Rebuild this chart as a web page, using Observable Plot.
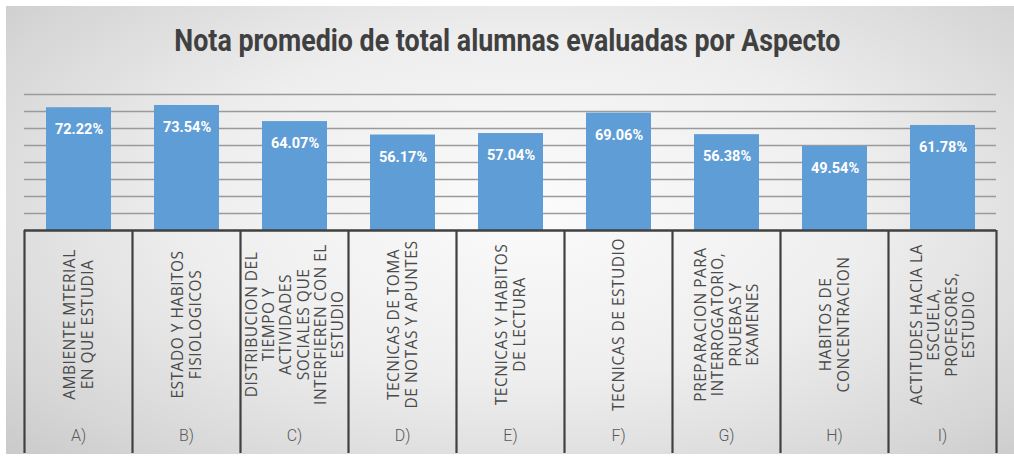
<!DOCTYPE html>
<html>
<head>
<meta charset="utf-8">
<script src="https://cdn.jsdelivr.net/npm/d3@7"></script>
<script src="https://cdn.jsdelivr.net/npm/@observablehq/plot@0.6"></script>
<style>
  html, body { margin: 0; padding: 0; background: #ffffff; }
  #wrap { position: relative; width: 1014px; height: 459px; overflow: hidden; background: #ffffff; }
  #panel { position: absolute; left: 6px; top: 6px; width: 1008px; height: 448px;
    background: radial-gradient(ellipse 75% 85% at 52% 45%, #fbfbfb 0%, #eeeeee 45%, #d6d6d6 80%, #c6c6c6 100%); }
  #titlebox { position: absolute; left: 0; top: 22px; width: 1014px; text-align: center; }
  #title { display: inline-block; white-space: nowrap;
    font-family: Roboto, "DejaVu Sans", sans-serif;
    font-weight: bold; font-size: 31px; color: #404040; line-height: 38px; transform-origin: 50% 50%; }
  #bars { position: absolute; left: 0; top: 0; }
  #table { position: absolute; left: 0; top: 230px; }
  svg { background: transparent !important; overflow: visible; }
</style>
</head>
<body>
<div id="wrap">
  <div id="panel"></div>
  <div id="titlebox"><span id="title">Nota promedio de total alumnas evaluadas por Aspecto</span></div>
  <div id="bars"></div>
  <div id="table"></div>
</div>
<script>
const letters = ["A)", "B)", "C)", "D)", "E)", "F)", "G)", "H)", "I)"];
const aspects = [
  "AMBIENTE MTERIAL\nEN QUE ESTUDIA",
  "ESTADO Y HABITOS\nFISIOLOGICOS",
  "DISTRIBUCION DEL\nTIEMPO Y\nACTIVIDADES\nSOCIALES QUE\nINTERFIEREN CON EL\nESTUDIO",
  "TECNICAS DE TOMA\nDE NOTAS Y APUNTES",
  "TECNICAS Y HABITOS\nDE LECTURA",
  "TECNICAS DE ESTUDIO",
  "PREPARACION PARA\nINTERROGATORIO,\nPRUEBAS Y\nEXAMENES",
  "HABITOS DE\nCONCENTRACION",
  "ACTITUDES HACIA LA\nESCUELA,\nPROFESORES,\nESTUDIO"
];
const values = [72.22, 73.54, 64.07, 56.17, 57.04, 69.06, 56.38, 49.54, 61.78];
const gridTicks = [10, 20, 30, 40, 50, 60, 70, 80];

const data = letters.map((l, i) => ({letter: l, aspect: aspects[i], value: values[i]}));

const W = 1014, mL = 24, mR = 18;
const step = (W - mL - mR) / letters.length;

// condense the title to the reference's narrow face
const t = document.getElementById("title");
const tw = t.getBoundingClientRect().width;
if (tw > 0) t.style.transform = `scaleX(${(666 / tw).toFixed(4)})`;

const bars = Plot.plot({
  width: W, height: 230,
  marginLeft: mL, marginRight: mR, marginTop: 94, marginBottom: 0,
  style: {background: "transparent"},
  x: {type: "band", domain: letters, paddingInner: 0.4, paddingOuter: 0.2, axis: null},
  y: {domain: [0, 80], axis: null},
  marks: [
    Plot.ruleY(gridTicks, {stroke: "#9a9a9a", strokeWidth: 1.5}),
    Plot.barY(data, {x: "letter", y: "value", fill: "#5f9dd6"}),
    Plot.text(data, {x: "letter", y: "value", text: d => d.value.toFixed(2) + "%",
      dy: 22, fill: "white", fontWeight: "bold", fontSize: 14.5, fontFamily: "Roboto, sans-serif"}),
    Plot.ruleY([0], {stroke: "#404040", strokeWidth: 2.5})
  ]
});
document.getElementById("bars").appendChild(bars);

const table = Plot.plot({
  width: W, height: 229,
  marginLeft: mL, marginRight: mR, marginTop: 0, marginBottom: 6,
  style: {background: "transparent"},
  x: {type: "band", domain: letters, padding: 0, axis: null},
  marks: [
    Plot.ruleX(letters, {x: d => d, dx: -step / 2, stroke: "#404040", strokeWidth: 2.2}),
    Plot.ruleX(letters.slice(-1), {x: d => d, dx: step / 2, stroke: "#404040", strokeWidth: 2.2}),
    Plot.text(data, {x: "letter", text: "aspect", frameAnchor: "top", dy: 94, rotate: -90,
      textAnchor: "middle", lineAnchor: "middle", lineHeight: 1.12,
      fill: "#4a4a4a", fontSize: 15.5, fontFamily: '"Open Sans", sans-serif'}),
    Plot.text(data, {x: "letter", text: "letter", frameAnchor: "bottom", dy: -13,
      fill: "#595959", fontSize: 16, fontWeight: 300, fontFamily: "Roboto, sans-serif"})
  ]
});
d3.select(table).selectAll("text")
  .filter(function() { return this.textContent.length > 3; })
  .style("letter-spacing", "0.5px");
document.getElementById("table").appendChild(table);
</script>
</body>
</html>
